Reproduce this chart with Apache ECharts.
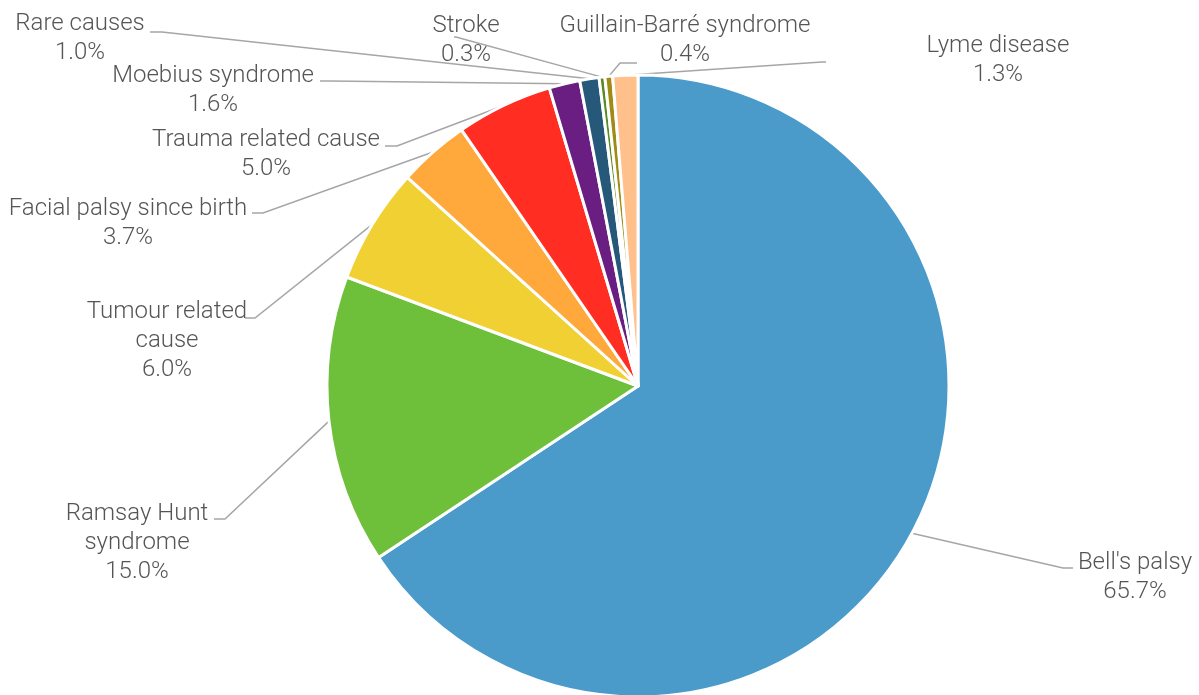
<!DOCTYPE html>
<html>
<head>
<meta charset="utf-8">
<script src="https://cdn.jsdelivr.net/npm/echarts@6/dist/echarts.min.js"></script>
<style>
html,body{margin:0;padding:0;background:#fff;}
#chart{width:1199px;height:695px;}
</style>
</head>
<body>
<div id="chart"></div>
<script>
// ---- data ----
const categories = ["Bell's palsy", "Ramsay Hunt syndrome", "Tumour related cause", "Facial palsy since birth", "Trauma related cause", "Moebius syndrome", "Rare causes", "Stroke", "Guillain-Barré syndrome", "Lyme disease"];
const labelTexts = ["Bell's palsy", "Ramsay Hunt\nsyndrome", "Tumour related\ncause", "Facial palsy since birth", "Trauma related cause", "Moebius syndrome", "Rare causes", "Stroke", "Guillain-Barré syndrome", "Lyme disease"];
const values = [65.7, 15.0, 6.0, 3.7, 5.0, 1.6, 1.0, 0.3, 0.4, 1.3];

// ---- styling / layout (not data) ----
const colors = ['#4a9bca', '#6ebf3a', '#f0d032', '#ffa83c', '#ff2d22', '#6a1e82', '#26587a', '#5a8a26', '#a08c14', '#ffc08c'];
const LH = 29;
const Y_SHIFT = 2;
// label block center x, first-line center y, elbow point, line end point
const labelLayoutCfg = [
  {x: 1135, y: 561, elbow: [1063, 568], end: [1073, 568]},
  {x: 137,  y: 512, elbow: [225, 519],  end: [214, 519]},
  {x: 167,  y: 310, elbow: [255, 318],  end: [245, 318]},
  {x: 128,  y: 207, elbow: [263, 213],  end: [252, 213]},
  {x: 266,  y: 138, elbow: [397, 146],  end: [385, 146]},
  {x: 213,  y: 74,  elbow: [330, 81],   end: [320, 81]},
  {x: 80,   y: 22,  elbow: [162, 32],   end: [150, 32]},
  {x: 466,  y: 24,  elbow: [456, 37],   end: [454, 37]},
  {x: 685,  y: 24,  elbow: [620, 63],   end: [637, 63]},
  {x: 998,  y: 44,  elbow: [822, 62],   end: [826, 62]}
];

const chart = echarts.init(document.getElementById('chart'), null, {renderer: 'canvas'});
const option = {
  backgroundColor: '#ffffff',
  animation: false,
  series: [{
    type: 'pie',
    center: [638, 386],
    radius: 311,
    startAngle: 90,
    clockwise: true,
    avoidLabelOverlap: false,
    minShowLabelAngle: 0,
    data: categories.map((c, i) => ({
      name: c,
      value: values[i],
      itemStyle: {color: colors[i]}
    })),
    itemStyle: {borderColor: '#ffffff', borderWidth: 3},
    label: {
      show: true,
      position: 'outside',
      formatter: p => labelTexts[p.dataIndex] + '\n' + values[p.dataIndex].toFixed(1) + '%',
      fontFamily: 'Roboto',
      fontWeight: 300,
      fontSize: 24,
      lineHeight: LH,
      color: '#555555',
      align: 'center'
    },
    labelLine: {
      show: true,
      length: 20,
      length2: 10,
      lineStyle: {color: '#a6a6a6', width: 1.5}
    },
    emphasis: {disabled: true},
    labelLayout: function (params) {
      const cfg = labelLayoutCfg[params.dataIndex];
      const pts = params.labelLinePoints;
      const p0 = pts && pts[0] ? pts[0] : cfg.elbow;
      return {
        x: cfg.x,
        y: cfg.y - LH / 2 + Y_SHIFT,
        align: 'center',
        verticalAlign: 'top',
        hideOverlap: false,
        moveOverlap: null,
        labelLinePoints: [p0, cfg.elbow, cfg.end]
      };
    }
  }]
};
chart.setOption(option);
</script>
</body>
</html>
